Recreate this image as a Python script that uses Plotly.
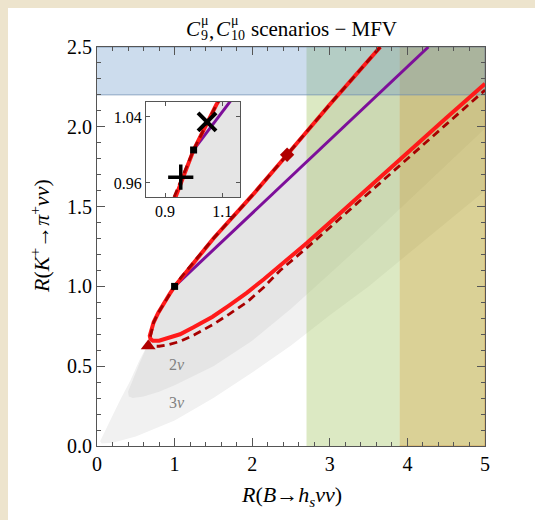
import plotly.graph_objects as go

# ---------------- data ----------------
# solid red contour: upper branch (top -> tip) then lower branch (tip -> right edge)
red_x = [3.65, 3.0, 2.45, 2.0, 1.5, 1.2, 1.08, 1.0, 0.93, 0.86, 0.79, 0.73,
         0.695, 0.68, 0.69, 0.72, 0.8, 0.92, 1.07, 1.25, 1.49, 1.7, 1.93,
         2.15, 2.36, 2.7, 3.0, 3.5, 4.0, 4.5, 5.0]
red_y = [2.5, 2.14, 1.825, 1.57, 1.30, 1.125, 1.055, 1.0, 0.9475, 0.895, 0.835,
         0.775, 0.725, 0.69, 0.67, 0.66, 0.66, 0.675, 0.70, 0.745, 0.81, 0.88,
         0.96, 1.045, 1.13, 1.27, 1.40, 1.62, 1.84, 2.055, 2.27]
upper_n = 12  # number of points of red_x/red_y on the upper branch

# dashed dark-red contour: lower branch (triangle tip -> right edge)
dash_lo_x = [0.66, 0.72, 0.8, 0.92, 1.07, 1.25, 1.49, 1.7, 1.93, 2.15, 2.36,
             2.7, 3.0, 3.5, 4.0, 4.5, 5.0]
dash_lo_y = [0.627, 0.625, 0.625, 0.635, 0.655, 0.695, 0.76, 0.825, 0.90,
             0.995, 1.10, 1.24, 1.37, 1.585, 1.80, 2.015, 2.23]

# purple line
purple_x = [1.0, 4.27]
purple_y = [1.0, 2.5]

# markers
sm_point = [1.0, 1.0]          # black square
diamond_point = [2.45, 1.825]  # dark-red diamond
triangle_point = [0.66, 0.627] # dark-red triangle
plus_point = [0.955, 0.967]    # inset "+"
cross_point = [1.047, 1.034]   # inset "x"

# 2nu region: lower edge from the tip to the right edge
r2_lo_x = [0.64, 0.55, 0.48, 0.43, 0.40, 0.41, 0.46, 0.6, 0.8, 1.0, 1.5, 2.0,
           2.5, 3.0, 3.5, 4.0, 4.5, 5.0, 5.0]
r2_lo_y = [0.62, 0.52, 0.44, 0.38, 0.34, 0.31, 0.30, 0.31, 0.34, 0.38, 0.50,
           0.66, 0.86, 1.08, 1.30, 1.53, 1.76, 1.99, 2.5]

# 3nu region: lower edge from the tip to the right edge
r3_lo_x = [0.66, 0.55, 0.43, 0.30, 0.17, 0.06, 0.04, 0.06, 0.2, 0.5, 1.0, 1.5,
           2.0, 2.5, 3.0, 3.5, 4.0, 4.5, 5.0, 5.0]
r3_lo_y = [0.64, 0.54, 0.41, 0.29, 0.16, 0.05, 0.03, 0.015, 0.02, 0.06, 0.16,
           0.30, 0.46, 0.63, 0.82, 1.0, 1.2, 1.4, 1.6, 2.5]

# experimental bands
green_x = [2.7, 3.9]
olive_x = [3.9, 5.0]
blue_y = [2.2, 2.5]

x_range = [0, 5]
y_range = [0, 2.5]
inset_x_range = [0.833, 1.163]
inset_y_range = [0.943, 1.058]

# ---------------- styling ----------------
RED = "#FF1A1A"
DARKRED = "#A80000"
PURPLE = "#7D0F9A"
FRAME = "#555555"
SERIF = "Liberation Serif"
BEIGE = "#EDE4CD"

up_x = red_x[:upper_n]
up_y = red_y[:upper_n]

fig = go.Figure()


def fill_trace(xs, ys, color, xa, ya, line_color=None):
    return go.Scatter(
        x=xs, y=ys, mode="lines", fill="toself", fillcolor=color,
        line=dict(width=1 if line_color else 0, color=line_color or color),
        hoverinfo="skip", showlegend=False, xaxis=xa, yaxis=ya,
    )


for xa, ya in (("x", "y"), ("x2", "y2")):
    # 3nu and 2nu allowed regions
    fig.add_trace(fill_trace(up_x + r3_lo_x, up_y + r3_lo_y, "#F1F1F1", xa, ya))
    fig.add_trace(fill_trace(up_x + r2_lo_x, up_y + r2_lo_y, "#E5E5E5", xa, ya))

    if xa == "x":
        # measurement bands
        fig.add_trace(fill_trace(
            [green_x[0], green_x[1], green_x[1], green_x[0]],
            [y_range[0], y_range[0], y_range[1], y_range[1]],
            "rgba(168,200,105,0.40)", xa, ya))
        fig.add_trace(fill_trace(
            [olive_x[0], olive_x[1], olive_x[1], olive_x[0]],
            [y_range[0], y_range[0], y_range[1], y_range[1]],
            "rgba(172,152,22,0.45)", xa, ya, line_color="rgba(215,150,60,0.6)"))
        fig.add_trace(fill_trace(
            [x_range[0], x_range[1], x_range[1], x_range[0]],
            [blue_y[0], blue_y[0], blue_y[1], blue_y[1]],
            "rgba(100,150,200,0.33)", xa, ya, line_color="rgba(110,140,175,0.7)"))

    # purple line
    fig.add_trace(go.Scatter(x=purple_x, y=purple_y, mode="lines",
                             line=dict(color=PURPLE, width=3),
                             hoverinfo="skip", showlegend=False, xaxis=xa, yaxis=ya))
    # solid red contour
    fig.add_trace(go.Scatter(x=red_x, y=red_y, mode="lines",
                             line=dict(color=RED, width=4),
                             hoverinfo="skip", showlegend=False, xaxis=xa, yaxis=ya))
    # dashed dark-red contour (upper branch shared with the solid one)
    fig.add_trace(go.Scatter(x=up_x + dash_lo_x, y=up_y + dash_lo_y, mode="lines",
                             line=dict(color=DARKRED, width=2.8, dash="8px,5px"),
                             hoverinfo="skip", showlegend=False, xaxis=xa, yaxis=ya))

    if xa == "x":
        fig.add_trace(go.Scatter(x=[triangle_point[0]], y=[triangle_point[1]], mode="markers",
                                 marker=dict(symbol="triangle-up", size=13, color="#B00000"),
                                 hoverinfo="skip", showlegend=False))
        fig.add_trace(go.Scatter(x=[diamond_point[0]], y=[diamond_point[1]], mode="markers",
                                 marker=dict(symbol="diamond", size=11, color="#B00000"),
                                 hoverinfo="skip", showlegend=False))
        fig.add_trace(go.Scatter(x=[sm_point[0]], y=[sm_point[1]], mode="markers",
                                 marker=dict(symbol="square", size=7, color="black"),
                                 hoverinfo="skip", showlegend=False))
    else:
        fig.add_trace(go.Scatter(x=[sm_point[0]], y=[sm_point[1]], mode="markers",
                                 marker=dict(symbol="square", size=7, color="black"),
                                 hoverinfo="skip", showlegend=False, xaxis=xa, yaxis=ya))
        fig.add_trace(go.Scatter(x=[plus_point[0]], y=[plus_point[1]], mode="markers",
                                 marker=dict(symbol="cross-thin", size=18,
                                             line=dict(color="black", width=3.5)),
                                 hoverinfo="skip", showlegend=False, xaxis=xa, yaxis=ya))
        fig.add_trace(go.Scatter(x=[cross_point[0]], y=[cross_point[1]], mode="markers",
                                 marker=dict(symbol="x-thin", size=18,
                                             line=dict(color="black", width=4)),
                                 hoverinfo="skip", showlegend=False, xaxis=xa, yaxis=ya))

axis_common = dict(
    showline=True, linecolor=FRAME, linewidth=1, mirror="ticks",
    ticks="inside", tickcolor=FRAME, ticklen=8, tickwidth=1,
    showgrid=False, zeroline=False, fixedrange=True,
    tickfont=dict(family=SERIF, size=20, color="black"),
)
inset_axis = {**axis_common, "ticklen": 4,
              "tickfont": dict(family=SERIF, size=16, color="black")}

# pixel -> paper helpers for the 535x520 canvas (plot area 97..485 x 47..446)
def px(x):
    return (x - 97) / 388


def py(y):
    return (446 - y) / 399


def text_at(text, x, y, size, anchor="left", angle=0, color="black"):
    return dict(text=text, xref="paper", yref="paper", x=px(x), y=py(y),
                xanchor=anchor, yanchor="middle", textangle=angle,
                showarrow=False, borderpad=0,
                font=dict(family=SERIF, size=size, color=color))


# title pieces: C with stacked super/subscripts
title_parts = [
    text_at("<i>C</i>", 185, 29, 21),
    text_at("μ", 200, 21, 14),
    text_at("9", 200, 36, 14),
    text_at(",", 208, 31, 21),
    text_at("<i>C</i>", 215, 29, 21),
    text_at("μ", 230, 21, 14),
    text_at("10", 230, 36, 14),
    text_at("scenarios − MFV", 250, 29, 21),
]

fig.update_layout(
    width=535, height=520,
    margin=dict(l=97, r=50, t=47, b=74),
    paper_bgcolor="white",
    plot_bgcolor="white",
    xaxis=dict(range=x_range, dtick=1, domain=[0, 1],
               minor=dict(dtick=0.2, ticks="inside", ticklen=4, tickcolor=FRAME),
               **axis_common),
    yaxis=dict(range=y_range, dtick=0.5, tickformat=".1f", domain=[0, 1],
               minor=dict(dtick=0.1, ticks="inside", ticklen=4, tickcolor=FRAME),
               **axis_common),
    xaxis2=dict(range=inset_x_range, tickvals=[0.9, 1.1], ticktext=["0.9", "1.1"],
                domain=[0.126, 0.369], anchor="y2", **inset_axis),
    yaxis2=dict(range=inset_y_range, tickvals=[0.96, 1.04], ticktext=["0.96", "1.04"],
                domain=[0.624, 0.862], anchor="x2", **inset_axis),
    shapes=[
        # textured margin strips on the left and top edges
        dict(type="rect", xref="paper", yref="paper", layer="below",
             x0=px(0), x1=px(8), y0=py(520), y1=py(0),
             fillcolor=BEIGE, line=dict(width=0)),
        dict(type="rect", xref="paper", yref="paper", layer="below",
             x0=px(0), x1=px(535), y0=py(8), y1=py(0),
             fillcolor=BEIGE, line=dict(width=0)),
    ],
    annotations=title_parts + [
        text_at("<i>R</i>(<i>B</i>→<i>h</i><sub><i>s</i></sub><i>νν</i>)",
                291, 496, 22, anchor="center"),
        text_at("<i>R</i>(<i>K</i><sup>+</sup>→<i>π</i><sup>+</sup><i>νν</i>)",
                40, 236, 22, anchor="center", angle=-90),
        dict(text="2<i>ν</i>", x=1.03, y=0.51, xref="x", yref="y", showarrow=False,
             font=dict(family=SERIF, size=16, color="#808080")),
        dict(text="3<i>ν</i>", x=1.03, y=0.27, xref="x", yref="y", showarrow=False,
             font=dict(family=SERIF, size=16, color="#808080")),
    ],
)

fig.write_html("out.html")
